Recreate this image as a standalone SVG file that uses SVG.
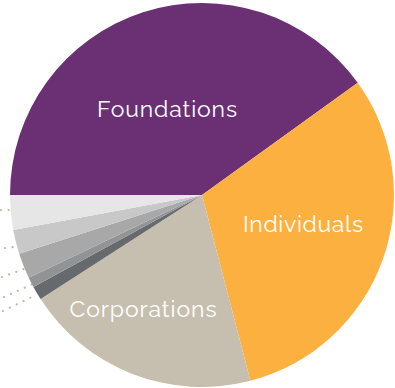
<svg xmlns="http://www.w3.org/2000/svg" width="395" height="388" viewBox="0 0 395 388">
<style>
.lbl{font-family:Raleway,"Open Sans","Liberation Sans",sans-serif;font-size:23px;fill:#ffffff;text-anchor:middle}
.dots{fill:none;stroke:#bcb3a3;stroke-width:2.2;stroke-linecap:round;stroke-dasharray:0 7.6}
</style>
<rect width="395" height="388" fill="#ffffff"/>
<g id="connectors">
<path class="dots" d="M1,210 L9,210"/>
<path class="dots" d="M5,248 L14,247"/>
<path class="dots" d="M2,277 L24,269"/>
<path class="dots" d="M4,297 L33,284"/>
<path class="dots" d="M3,311 L36,295"/>
</g>
<g id="foundations">
<path d="M202,195 L10,195 A192,192 0 0 1 357.7,82.7 Z" fill="#6b2f73"/>
<text class="lbl" x="167" y="117" textLength="140" lengthAdjust="spacing">Foundations</text>
</g>
<g id="individuals">
<path d="M202,195 L357.7,82.7 A192,192 0 0 1 250.4,380.8 Z" fill="#fbb040"/>
<text class="lbl" x="303" y="232" textLength="120" lengthAdjust="spacing">Individuals</text>
</g>
<g id="corporations">
<path d="M202,195 L250.4,380.8 A192,192 0 0 1 40.6,299 Z" fill="#c6bfb0"/>
<text class="lbl" x="143" y="317" textLength="147" lengthAdjust="spacing">Corporations</text>
</g>
<g id="other1"><path d="M202,195 L40.6,299 A192,192 0 0 1 33.4,286.9 Z" fill="#676a6d"/></g>
<g id="other2"><path d="M202,195 L33.4,286.9 A192,192 0 0 1 28.7,277.7 Z" fill="#929395"/></g>
<g id="other3"><path d="M202,195 L28.7,277.7 A192,192 0 0 1 19.2,253.7 Z" fill="#a8a8a9"/></g>
<g id="other4"><path d="M202,195 L19.2,253.7 A192,192 0 0 1 13.2,230 Z" fill="#c8c8c8"/></g>
<g id="other5"><path d="M202,195 L13.2,230 A192,192 0 0 1 10,195 Z" fill="#e6e6e6"/></g>
</svg>
